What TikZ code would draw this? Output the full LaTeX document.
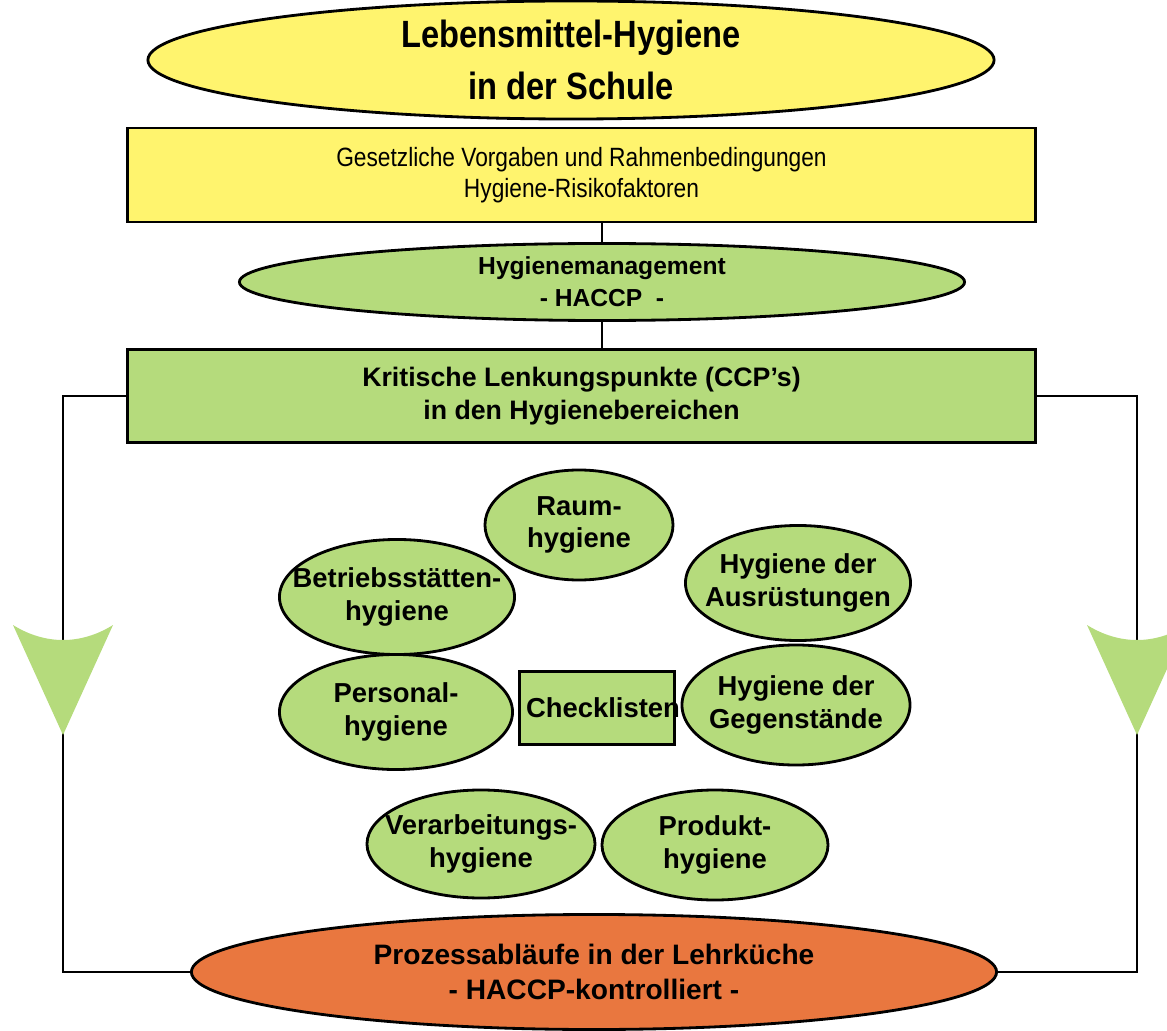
\documentclass[tikz,border=0pt]{standalone}
\usepackage{fontspec}
\setmainfont{Liberation Sans}
\newfontfamily\narrowfont[FakeStretch=0.86]{Liberation Sans}
\usetikzlibrary{shapes.geometric}

\definecolor{hyyellow}{RGB}{255,244,110}
\definecolor{hygreen}{RGB}{181,219,124}
\definecolor{hyorange}{RGB}{233,119,63}

\begin{document}
\begin{tikzpicture}[
		x=0.025cm, y=-0.025cm,
		every node/.style={draw, line width=2pt, inner sep=0pt, align=center, font=\bfseries\fontsize{19.5}{23}\selectfont},
		every label/.append style={draw=none, fill=none},
		oval/.style={ellipse, fill=hygreen},
		bigbox/.style={rectangle, minimum width=22.675cm},
		link/.style={line width=1.8pt}
	]
  \useasboundingbox (0,0) rectangle (1167,1031);
  % top level
  \node (titel) [ellipse, fill=hyyellow, minimum width=21.15cm, minimum height=2.95cm,
    font=\narrowfont\bfseries\fontsize{27}{37}\selectfont] at (571,60) {Lebensmittel-Hygiene\\in der Schule};
  \node (rahmen) [bigbox, fill=hyyellow, minimum height=2.35cm,
    font=\narrowfont\fontsize{18.8}{22}\selectfont] at (581.5,175) {Gesetzliche Vorgaben und Rahmenbedingungen\\Hygiene-Risikofaktoren};
  \node (mgmt) [oval, minimum width=18.125cm, minimum height=1.925cm,
    font=\bfseries\fontsize{17.5}{23}\selectfont] at (602,282) {Hygienemanagement\\- HACCP\ \ -};
  \node (ccp) [bigbox, fill=hygreen, minimum height=2.325cm,
    font=\bfseries\fontsize{19}{23}\selectfont] at (581.5,396) {Kritische Lenkungspunkte (CCP’s)\\in den Hygienebereichen};
  % hygiene areas
  \node (raum) [oval, minimum width=4.7cm, minimum height=2.75cm,
    label={center:Raum-\\hygiene}] at (579,525) {};
  \node (ausr) [oval, minimum width=5.625cm, minimum height=2.875cm,
    label={center:Hygiene der\\Ausrüstungen}] at (798,583) {};
  \node (betrieb) [oval, minimum width=5.875cm, minimum height=2.875cm,
    label={center:Betriebsstätten-\\hygiene}] at (397,597) {};
  \node (personal) [oval, minimum width=5.825cm, minimum height=2.875cm,
    label={center:Personal-\\hygiene}] at (396,712) {};
  \node (check) [rectangle, fill=hygreen, minimum width=3.875cm, minimum height=1.825cm,
    label={[xshift=0.15cm]center:Checklisten}] at (597,708) {};
  \node (gegen) [oval, minimum width=5.7cm, minimum height=3cm,
    label={center:Hygiene der\\Gegenstände}] at (796,705) {};
  \node (verarb) [oval, minimum width=5.7cm, minimum height=2.7cm,
    label={center:Verarbeitungs-\\hygiene}] at (481,844) {};
  \node (produkt) [oval, minimum width=5.65cm, minimum height=2.75cm,
    label={center:Produkt-\\hygiene}] at (715,845) {};
  % bottom
  \node (prozess) [ellipse, fill=hyorange, minimum width=20.125cm, minimum height=2.875cm,
    font=\bfseries\fontsize{20}{24.5}\selectfont] at (594,972) {Prozessabläufe in der Lehrküche\\- HACCP-kontrolliert -};
  \coordinate (lturn) at (63,396);
  \coordinate (rturn) at (1137,396);
  \draw [link] (mgmt.north) -- (mgmt.north |- rahmen.south);
  \draw [link] (mgmt.south) -- (mgmt.south |- ccp.north);
  \draw [link] (ccp.west) -- (ccp.west -| lturn) |- (prozess.west);
  \draw [link] (ccp.east) -- (ccp.east -| rturn) |- (prozess.east);
  % flow arrows
  \fill [hygreen] (13,625) .. controls (45,645) and (81,645) .. (113,625) -- (63,735) -- cycle;
  \fill [hygreen] (1087,625) .. controls (1119,645) and (1155,645) .. (1187,625) -- (1137,735) -- cycle;
\end{tikzpicture}
\end{document}
